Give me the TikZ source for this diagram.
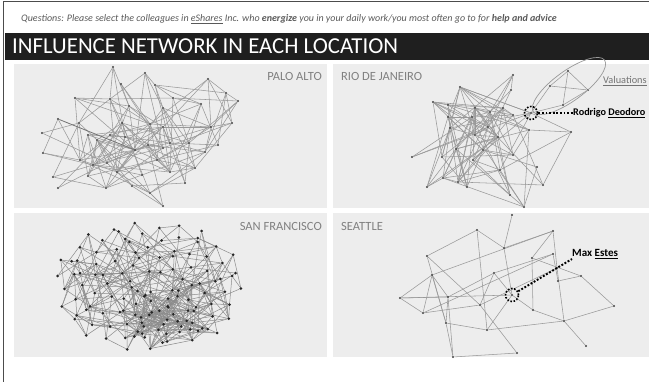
\documentclass[tikz,border=0pt]{standalone}
\usepackage{fontspec}
\setmainfont{Carlito}
\usetikzlibrary{shapes.geometric}
\pgfdeclarelayer{panels}
\pgfdeclarelayer{edges}
\pgfsetlayers{panels,edges,main}

\tikzset{
  dot/.style={circle, fill=black!75, inner sep=0pt, minimum size=2.4pt},
  sfdot/.style={circle, fill=black!85, inner sep=0pt, minimum size=3pt},
  edge/.style={draw=black!40, line width=0.55pt},
  sfedge/.style={draw=black!45, line width=0.5pt},
  panel/.style={fill=black!7},
  city/.style={text=black!50, font=\fontsize{12.5}{14}\selectfont, inner sep=0pt},
  callout/.style={draw=black, line width=1.9pt, dash pattern=on 1.9pt off 1.7pt},
  ring/.style={circle, draw=black, line width=1.6pt, dash pattern=on 1.6pt off 1.6pt, minimum size=13pt, inner sep=0pt},
  person/.style={font=\fontsize{10.2}{12}\selectfont\bfseries, text=black, inner sep=0pt},
}

\newcommand\placenet[3]{%
  \foreach \x/\y [count=\i] in {#3}{%
    \node[#2] (#1\i) at (\x,\y) {};
    \expandafter\xdef\csname #1x\i\endcsname{\x}%
    \expandafter\xdef\csname #1y\i\endcsname{\y}%
  }}

\newcommand\netlinks[5]{%
  \foreach \i in {1,...,#2}{%
    \foreach \j in {\i,...,#2}{%
      \ifnum\j>\i\relax
        \edef\xa{\csname #1x\i\endcsname}\edef\ya{\csname #1y\i\endcsname}%
        \edef\xb{\csname #1x\j\endcsname}\edef\yb{\csname #1y\j\endcsname}%
        \pgfmathtruncatemacro\ok{and(veclen(\xa-\xb,\ya-\yb)<#3, rnd<#4)}%
        \ifnum\ok=1\relax \draw[#5] (#1\i) -- (#1\j);\fi
      \fi}}}

\begin{document}
\begin{tikzpicture}[x=1pt,y=-1pt]
\useasboundingbox (0,0) rectangle (649,381);
\pgfmathsetseed{4242}

% frame, question, banner
\draw[black!70, line width=0.8pt] (3,390) -- (3,1.5) -- (660,1.5);
\node[anchor=west, text=black!65, inner sep=0pt, font=\fontsize{10}{11}\selectfont\itshape] (question) at (21,19)
  {Questions: Please select the colleagues in \underline{eShares} Inc. who \textbf{energize} you in your daily work/you most often go to for \textbf{help and advice}};
\fill[black!88] (5,33) rectangle (660,60);
\node[anchor=west, text=white, inner sep=0pt, font=\fontsize{22.8}{25}\selectfont] (title) at (12,46.5) {INFLUENCE NETWORK IN EACH LOCATION};

\begin{pgfonlayer}{panels}
\fill[panel] (14,64) rectangle (327,208);
\fill[panel] (333,64) rectangle (660,208);
\fill[panel] (14,213) rectangle (327,357);
\fill[panel] (333,213) rectangle (660,357);
\end{pgfonlayer}

\node[city, anchor=east] (lpa) at (322,76) {PALO ALTO};
\node[city, anchor=west] (lrio) at (341,76) {RIO DE JANEIRO};
\node[city, anchor=east] (lsf) at (322,226) {SAN FRANCISCO};
\node[city, anchor=west] (lsea) at (341,226) {SEATTLE};

% ---------------- Palo Alto
\placenet{pa}{dot}{113/67, 145/73, 155/85, 121/84, 208/79, 226/93, 238/101, 75/98, 110/99, 129/106, 163/108, 173/98, 201/104, 58/119, 79/123, 122/123, 150/124, 163/127, 211/127, 232/123, 42/133, 88/135, 110/135, 125/137, 97/140, 148/145, 170/143, 163/148, 135/150, 189/143, 218/145, 43/153, 205/152, 80/160, 93/165, 107/163, 117/172, 157/160, 170/172, 195/168, 53/177, 88/176, 142/175, 58/188, 106/188, 132/186, 150/193, 185/183, 163/206}
\begin{pgfonlayer}{edges}
\netlinks{pa}{49}{80}{0.24}{edge}
\draw[edge] (pa49) -- (pa47);
\draw[edge, draw=black!55, line width=0.8pt] (pa14) -- (pa29);
\end{pgfonlayer}

% ---------------- Rio de Janeiro
\placenet{r}{dot}{513/75, 460/87, 511/90, 433/102, 448/105, 475/108, 490/112, 503/108, 448/117, 472/117, 488/127, 513/115, 529/130, 571/132, 450/128, 475/135, 498/137, 456/149, 483/150, 513/155, 412/157, 442/157, 473/160, 537/167, 500/170, 443/178, 458/182, 427/187, 467/187, 510/195, 543/185, 524/207, 531/113}
\placenet{v}{dot}{568/71, 550/86, 588/90, 563/105}
\begin{pgfonlayer}{edges}
\netlinks{r}{33}{88}{0.27}{edge}
\draw[edge] (r1) -- (r3);
\draw[edge] (r14) -- (r33);
\draw[edge] (r33) -- (r2);
\draw[edge] (r33) -- (r21);
\draw[edge] (v1) -- (v2);
\draw[edge] (v1) -- (v3);
\draw[edge] (v1) -- (v4);
\draw[edge] (v2) -- (v3);
\draw[edge] (v3) -- (v4);
\draw[edge] (v2) -- (r33);
\draw[edge] (v4) -- (r33);
\end{pgfonlayer}
\node[ellipse, draw=black!40, line width=0.7pt, rotate=36, minimum width=88pt, minimum height=30pt, inner sep=0pt] (valell) at (569,86) {};
\node[anchor=west, text=black!55, inner sep=0pt, font=\fontsize{10.3}{12}\selectfont] (valtxt) at (603,81) {\underline{Valuations}};
\node[ring] (rring) at (531,113) {};
\node[person, anchor=west] (rodrigo) at (573,113) {Rodrigo \underline{Deodoro}};
\draw[callout] (rring) -- (rodrigo.west);

% ---------------- San Francisco
\foreach \i in {1,...,130}{%
  \ifnum\i>108 \def\cx{163}\def\cy{316}\def\ax{45}\def\ay{30}\else \def\cx{148}\def\cy{286}\def\ax{97}\def\ay{67}\fi
  \pgfmathsetmacro\u{sqrt(frac(\i*0.7548776662))}%
  \pgfmathsetmacro\v{360*frac(\i*0.5698402910)}%
  \pgfmathsetmacro\px{\cx+\ax*\u*cos(\v)}%
  \pgfmathsetmacro\py{\cy+\ay*\u*sin(\v)}%
  \node[sfdot] (sf\i) at (\px,\py) {};
  \expandafter\xdef\csname sfx\i\endcsname{\px}%
  \expandafter\xdef\csname sfy\i\endcsname{\py}%
}
\begin{pgfonlayer}{edges}
\netlinks{sf}{130}{55}{0.15}{sfedge}
\end{pgfonlayer}

% ---------------- Seattle
\placenet{s}{dot}{512/215, 477/230, 553/231, 427/256, 504/248, 532/258, 553/254, 432/275, 494/273, 557/268, 558/281, 581/276, 400/298, 448/297, 480/305, 512/295, 533/310, 423/313, 446/323, 487/330, 564/321, 614/306, 586/346, 453/357, 517/353}
\begin{pgfonlayer}{edges}
\foreach \a/\b in {4/2, 2/5, 1/5, 3/5, 3/6, 3/10, 3/8, 7/9, 4/19, 4/15, 15/25, 5/16, 6/12, 6/17, 10/21, 11/12, 12/22, 21/22, 21/23, 21/20, 21/17, 13/14, 13/8, 13/18, 8/18, 8/14, 14/19, 14/24, 19/24, 24/25, 19/20, 20/16, 9/14, 9/16, 9/15, 18/15, 18/7, 13/16, 15/10, 16/17, 2/20, 7/11, 8/19}
  \draw[edge] (s\a) -- (s\b);
\end{pgfonlayer}
\node[ring] (sring) at (512,295) {};
\node[person, font=\fontsize{11}{13}\selectfont\bfseries, anchor=south west] (max) at (572,259) {Max \underline{Estes}};
\draw[callout] (sring) -- (max.south west);

\end{tikzpicture}
\end{document}
